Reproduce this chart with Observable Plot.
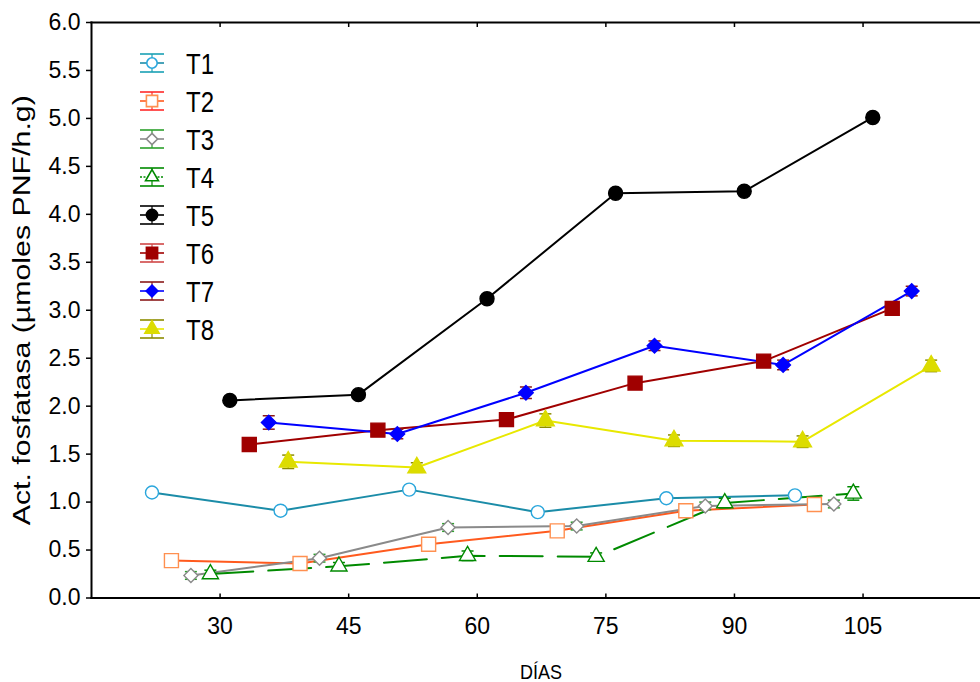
<!DOCTYPE html>
<html>
<head>
<meta charset="utf-8">
<script src="https://cdn.jsdelivr.net/npm/d3@7"></script>
<script src="https://cdn.jsdelivr.net/npm/@observablehq/plot@0.6"></script>
<style>
  html, body { margin: 0; padding: 0; background: #fff; }
  #chart { position: relative; width: 980px; height: 682px; font-family: "Liberation Sans", Arial, sans-serif; }
  #legend { position: absolute; left: 0; top: 0; pointer-events: none; }
</style>
</head>
<body>
<div id="chart"></div>
<script>
// Sampling days and treatments
const dias = [30, 45, 60, 75, 90, 105];
const tratamientos = ["T1", "T2", "T3", "T4", "T5", "T6", "T7", "T8"];

// Phosphatase activity (µmoles PNF/h.g) per treatment, one value per sampling day
const T1 = [1.10, 0.91, 1.13, 0.895, 1.04, 1.07];
const T2 = [0.39, 0.36, 0.56, 0.70, 0.91, 0.975];
const T3 = [0.235, 0.415, 0.735, 0.75, 0.96, 0.98];
const T4 = [0.25, 0.33, 0.44, 0.43, 0.99, 1.09];
const T5 = [2.06, 2.12, 3.12, 4.22, 4.24, 5.01];
const T6 = [1.60, 1.75, 1.86, 2.24, 2.47, 3.02];
const T7 = [1.83, 1.71, 2.14, 2.63, 2.43, 3.20];
const T8 = [1.42, 1.36, 1.85, 1.64, 1.63, 2.42];

// Standard errors
const errT1 = [0.03, 0.03, 0.03, 0.03, 0.03, 0.03];
const errT2 = [0.03, 0.03, 0.03, 0.03, 0.03, 0.03];
const errT3 = [0.04, 0.04, 0.04, 0.04, 0.04, 0.04];
const errT4 = [0.04, 0.04, 0.05, 0.04, 0.05, 0.07];
const errT5 = [0.03, 0.03, 0.03, 0.03, 0.03, 0.03];
const errT6 = [0.05, 0.05, 0.05, 0.05, 0.05, 0.05];
const errT7 = [0.07, 0.05, 0.06, 0.05, 0.05, 0.05];
const errT8 = [0.07, 0.05, 0.07, 0.06, 0.06, 0.06];

// Axis ticks and titles
const yTicks = [0, 0.5, 1, 1.5, 2, 2.5, 3, 3.5, 4, 4.5, 5, 5.5, 6];
const xTicks = [30, 45, 60, 75, 90, 105];
const tituloY = "Act. fosfatasa (µmoles PNF/h.g)";
const tituloX = "DÍAS";

const series = [T1, T2, T3, T4, T5, T6, T7, T8];
const errores = [errT1, errT2, errT3, errT4, errT5, errT6, errT7, errT8];

// Per-treatment styling
const lineColor   = ["#1b8ca8", "#ff5a1e", "#8a8a8a", "#008a00", "#000000", "#a00000", "#0000ff", "#e8e800"];
const capColor    = ["#1aa0b4", "#ff2a2a", "#2ca02c", "#008a00", "#000000", "#d04848", "#8b1a1a", "#8c8c00"];
const markStroke  = ["#2aa6dc", "#ff9050", "#8a8a8a", "#008a00", "#000000", "#a00000", "#0000ff", "#dcdc00"];
const markFill    = ["#ffffff", "#ffffff", "#ffffff", "#ffffff", "#000000", "#a00000", "#0000ff", "#dcdc00"];
const markSymbol  = ["circle", "square", "diamond2", "triangle", "circle", "square", "diamond2", "triangle"];
const markR       = [6.5, 7.9, 6.3, 6.0, 7.0, 7.9, 6.6, 6.6];
const lineDash    = [null, null, null, "43,15", null, null, null, null];

// Treatments are dodged horizontally around each sampling day
const paso = 2.27;
const filas = tratamientos.flatMap((t, i) =>
  dias.map((d, j) => ({
    trat: t, i, dia: d,
    x: d + (i - (tratamientos.length - 1) / 2) * paso,
    y: series[i][j],
    err: errores[i][j]
  }))
);

// Horizontal stroke used for error-bar caps
const cap = {
  draw(context, size) {
    const w = Math.sqrt(size / Math.PI);
    context.moveTo(-w, 0);
    context.lineTo(w, 0);
  }
};

const marks = [
  Plot.frame({anchor: "top", strokeWidth: 2}),
  Plot.frame({anchor: "left", strokeWidth: 2}),
  Plot.frame({anchor: "bottom", strokeWidth: 2.2}),
  Plot.axisY(yTicks, {
    tickSize: 5, tickPadding: 6, strokeWidth: 1.5,
    tickFormat: d3.format(".1f"), fontSize: 23,
    label: tituloY, labelArrow: "none",
    labelAnchor: "center", labelOffset: 78
  }),
  Plot.axisX(xTicks, {
    tickSize: -4, tickPadding: 24, strokeWidth: 1.5, fontSize: 23, label: null
  }),
  Plot.axisX(xTicks, {anchor: "top", tickSize: -4, strokeWidth: 1.5, tickFormat: () => "", label: null})
];

tratamientos.forEach((t, i) => {
  marks.push(Plot.line(filas.filter(d => d.i === i), {
    x: "x", y: "y", stroke: lineColor[i], strokeWidth: 2,
    strokeDasharray: lineDash[i] ?? undefined
  }));
});

tratamientos.forEach((t, i) => {
  const f = filas.filter(d => d.i === i);
  marks.push(
    Plot.ruleX(f, {x: "x", y1: d => d.y - d.err, y2: d => d.y + d.err, stroke: capColor[i], strokeWidth: 1.3}),
    Plot.dot(f, {x: "x", y: d => d.y + d.err, symbol: cap, r: 6, stroke: capColor[i], strokeWidth: 1.5}),
    Plot.dot(f, {x: "x", y: d => d.y - d.err, symbol: cap, r: 6, stroke: capColor[i], strokeWidth: 1.5})
  );
});

tratamientos.forEach((t, i) => {
  marks.push(Plot.dot(filas.filter(d => d.i === i), {
    x: "x", y: "y", symbol: markSymbol[i], r: markR[i],
    fill: markFill[i], stroke: markStroke[i], strokeWidth: 1.4
  }));
});

const plot = Plot.plot({
  width: 980, height: 682,
  marginLeft: 91, marginRight: 0, marginTop: 22, marginBottom: 84.5,
  style: {fontFamily: "Liberation Sans, Arial, sans-serif", background: "white", color: "black", overflow: "visible"},
  x: {domain: [15, 118.7]},
  y: {domain: [0, 6]},
  marks
});

// The y title is drawn long and narrow
d3.select(plot).selectAll('g[aria-label="y-axis label"], g[aria-label="y-axis label"] text')
  .style("font-size", "23px");
d3.select(plot).select('g[aria-label="y-axis label"] text')
  .attr("textLength", 430).attr("lengthAdjust", "spacingAndGlyphs");

// The x title sits centred under the axis, in a compact face
d3.select(plot).append("text")
  .attr("x", 541).attr("y", 679)
  .attr("text-anchor", "middle")
  .style("font-size", "21px")
  .attr("font-family", "Liberation Sans, Arial, sans-serif")
  .attr("fill", "#000")
  .attr("textLength", 42).attr("lengthAdjust", "spacingAndGlyphs")
  .text(tituloX);

const chart = document.getElementById("chart");
chart.appendChild(plot);

// Legend in the upper-left corner of the plot area
const symbolType = {circle: d3.symbolCircle, square: d3.symbolSquare, diamond2: d3.symbolDiamond2, triangle: d3.symbolTriangle};
const leg = d3.select(chart).append("svg")
  .attr("id", "legend").attr("width", 980).attr("height", 682);
tratamientos.forEach((t, i) => {
  const cx = 152, cy = 63 + i * 38;
  const g = leg.append("g").attr("transform", `translate(${cx},${cy})`);
  g.append("line").attr("x1", -12).attr("x2", 12).attr("y1", -9).attr("y2", -9)
    .attr("stroke", capColor[i]).attr("stroke-width", 1.6);
  g.append("line").attr("x1", -12).attr("x2", 12).attr("y1", 9).attr("y2", 9)
    .attr("stroke", capColor[i]).attr("stroke-width", 1.6);
  g.append("line").attr("x1", 0).attr("x2", 0).attr("y1", -9).attr("y2", 9)
    .attr("stroke", capColor[i]).attr("stroke-width", 1.2);
  g.append("line").attr("x1", -12).attr("x2", 12).attr("y1", 0).attr("y2", 0)
    .attr("stroke", lineColor[i]).attr("stroke-width", 1.6)
    .attr("stroke-dasharray", lineDash[i] ? "2,1.5" : null);
  const size = Math.PI * Math.pow(markR[i] * 0.8, 2);
  g.append("path").attr("d", d3.symbol(symbolType[markSymbol[i]], size)())
    .attr("fill", markFill[i]).attr("stroke", markStroke[i]).attr("stroke-width", 1.6);
  leg.append("text")
    .attr("transform", `translate(186,${cy + 11}) scale(1,1.2)`)
    .attr("font-family", "Liberation Sans, Arial, sans-serif")
    .attr("font-size", 24).attr("fill", "#000")
    .text(t);
});
</script>
</body>
</html>
